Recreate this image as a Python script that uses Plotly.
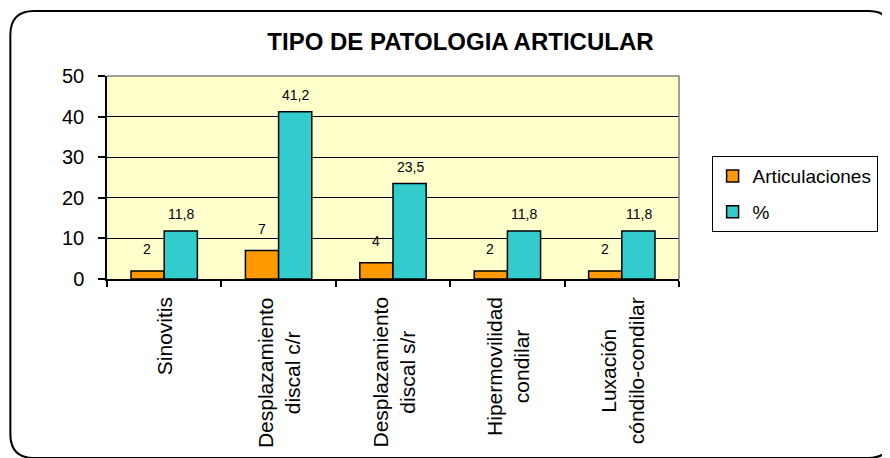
import plotly.graph_objects as go

# data
categories = ["Sinovitis", "Desplazamiento discal c/r", "Desplazamiento discal s/r",
              "Hipermovilidad condilar", "Luxación cóndilo-condilar"]
cat_labels = ["Sinovitis", "Desplazamiento<br>discal c/r", "Desplazamiento<br>discal s/r",
              "Hipermovilidad<br>condilar", "Luxación<br>cóndilo-condilar"]
articulaciones = [2, 7, 4, 2, 2]
porcentaje = [11.8, 41.2, 23.5, 11.8, 11.8]

FONT = "Liberation Sans, Arial, sans-serif"
# page body adds an 8px offset, so the figure is laid out 8px up/left of the reference
W, H = 882, 450
L, R, T, B = 99, 203, 68, 179


def px(x, y):
    """figure pixel -> paper coords (for the decorative frame only)"""
    return (x - L) / (W - L - R), (H - B - y) / (H - T - B)


def fmt(v):
    return f"{v:g}".replace(".", ",")


fig = go.Figure()
fig.add_trace(go.Bar(
    x=categories, y=articulaciones, name="Articulaciones",
    marker=dict(color="#FF9900", line=dict(color="black", width=1.5)),
    legendgroup="a",
))
fig.add_trace(go.Bar(
    x=categories, y=porcentaje, name="%",
    marker=dict(color="#33CCCC", line=dict(color="black", width=1.5)),
    legendgroup="b",
))

annotations = []
# value labels above bars
for cat, a, p in zip(categories, articulaciones, porcentaje):
    annotations.append(dict(x=cat, y=a, text=fmt(a), showarrow=False, xshift=-17,
                            yanchor="bottom", yshift=12, font=dict(size=14, family=FONT, color="black")))
    annotations.append(dict(x=cat, y=p, text=fmt(p), showarrow=False, xshift=17,
                            yanchor="bottom", yshift=7, font=dict(size=14, family=FONT, color="black")))
# rotated category labels (centred lines, top-aligned block)
for cat, lab in zip(categories, cat_labels):
    annotations.append(dict(x=cat, y=0, yref="y", text=lab, showarrow=False, textangle=-90,
                            yanchor="top", yshift=-16, align="center",
                            font=dict(size=21, family=FONT, color="black")))

# rounded outer frame + grey top/right plot-area border
x0, y0 = px(1, 3)
x1, y1 = px(895, 450)
rx, ry = 24 / (W - L - R), 24 / (H - T - B)
frame = (f"M {x0},{y0 - ry} Q {x0},{y0} {x0 + rx},{y0} L {x1 - rx},{y0} Q {x1},{y0} {x1},{y0 - ry} "
         f"L {x1},{y1 + ry} Q {x1},{y1} {x1 - rx},{y1} L {x0 + rx},{y1} Q {x0},{y1} {x0},{y1 + ry} Z")

fig.update_layout(
    width=W, height=H,
    margin=dict(l=L, r=R, t=T, b=B),
    paper_bgcolor="white", plot_bgcolor="#FFFFCC",
    font=dict(family=FONT, color="black"),
    title=dict(text="<b>TIPO DE PATOLOGIA ARTICULAR</b>", x=0.513, xanchor="center",
               y=0.925, yanchor="middle", font=dict(size=24, family=FONT, color="black")),
    barmode="group", bargap=0.42, bargroupgap=0,
    legend=dict(x=1.057, y=0.605, xanchor="left", yanchor="top", bgcolor="white",
                bordercolor="black", borderwidth=1, font=dict(size=19, family=FONT),
                itemwidth=30, tracegroupgap=8),
    annotations=annotations,
    shapes=[
        dict(type="path", xref="paper", yref="paper", path="M 0,1 L 1,1 L 1,0",
             line=dict(color="#808080", width=1.5), layer="above"),
        dict(type="path", xref="paper", yref="paper", path=frame,
             line=dict(color="black", width=2)),
    ],
    showlegend=True,
)
fig.update_xaxes(showticklabels=False, showline=True, linecolor="black", linewidth=1.5,
                 ticks="outside", tickson="boundaries", ticklen=6, tickcolor="black",
                 tickwidth=1.5, showgrid=False)
fig.update_yaxes(range=[0, 50], dtick=10, showline=True, linecolor="black", linewidth=1.5,
                 ticks="outside", ticklen=7, tickcolor="black", tickwidth=1.5,
                 showgrid=True, gridcolor="black", gridwidth=1, zeroline=False,
                 tickfont=dict(size=20, family=FONT), ticklabelstandoff=10)

fig.write_html("out.html")
